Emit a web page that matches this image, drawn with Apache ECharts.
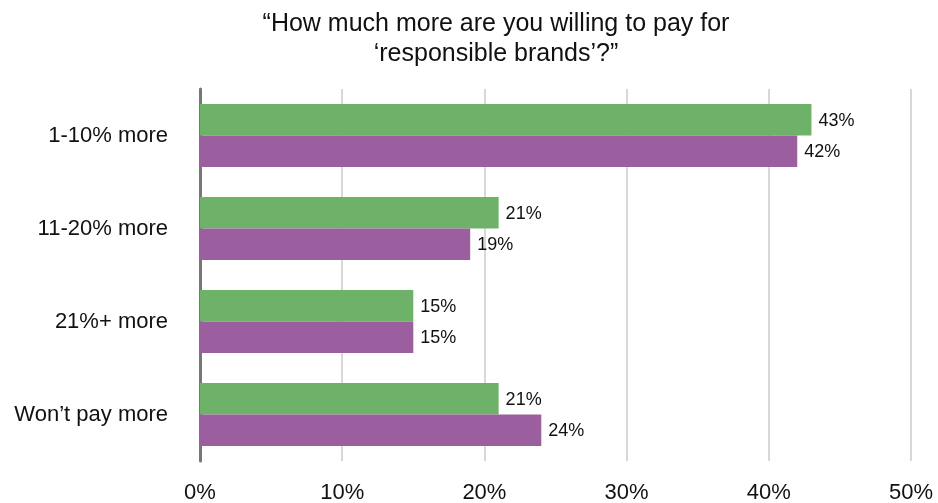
<!DOCTYPE html>
<html>
<head>
<meta charset="utf-8">
<script src="https://cdn.jsdelivr.net/npm/echarts@6/dist/echarts.min.js"></script>
<style>
  html, body { margin: 0; padding: 0; background: #fff; }
  #chart { width: 938px; height: 503px; }
</style>
</head>
<body>
<div id="chart"></div>
<script>
// Answer categories (top to bottom)
const categories = ['1-10% more', '11-20% more', '21%+ more', 'Won\u2019t pay more'];
// Share of respondents per group, in percent
const groupA = [43, 21, 15, 21];
const groupB = [42, 19, 15, 24];
// Value axis ticks
const tickValues = [0, 10, 20, 30, 40, 50];

const FONT = '"Liberation Sans", Arial, Helvetica, sans-serif';

const chart = echarts.init(document.getElementById('chart'), null, { renderer: 'canvas' });

const labelStyle = {
  show: true,
  position: 'right',
  distance: 7,
  offset: [0, 1],
  formatter: p => p.value + '%',
  color: '#111',
  fontSize: 18,
  fontFamily: FONT
};

chart.setOption({
  animation: false,
  backgroundColor: '#fff',
  title: {
    text: '\u201cHow much more are you willing to pay for\n\u2018responsible brands\u2019?\u201d',
    left: 491,
    textAlign: 'center',
    top: 4,
    textStyle: {
      fontFamily: FONT,
      fontWeight: 'normal',
      fontSize: 25,
      lineHeight: 30,
      color: '#111'
    }
  },
  grid: {
    left: 200, right: 27, top: 89, bottom: 42,
    containLabel: false,
    outerBoundsMode: 'none'
  },
  xAxis: {
    type: 'value',
    min: tickValues[0],
    max: tickValues[tickValues.length - 1],
    interval: 10,
    axisLine: { show: false },
    axisTick: { show: false },
    splitLine: { show: true, lineStyle: { color: '#d8d8d8', width: 2 } },
    axisLabel: {
      formatter: v => v + '%',
      color: '#111',
      fontSize: 22,
      fontFamily: FONT,
      margin: 21
    }
  },
  yAxis: {
    type: 'category',
    data: categories,
    inverse: true,
    axisLine: { show: true, lineStyle: { color: '#777', width: 3 } },
    axisTick: { show: false },
    axisLabel: {
      color: '#111',
      fontSize: 22,
      fontFamily: FONT,
      margin: 32,
      padding: [3, 0, 0, 0]
    }
  },
  series: [
    {
      name: 'Group A',
      type: 'bar',
      data: groupA,
      barCategoryGap: '32%',
      barGap: '0%',
      itemStyle: { color: '#6eb26a' },
      label: labelStyle
    },
    {
      name: 'Group B',
      type: 'bar',
      data: groupB,
      barCategoryGap: '32%',
      barGap: '0%',
      itemStyle: { color: '#9b5e9e' },
      label: labelStyle
    }
  ]
});
</script>
</body>
</html>
